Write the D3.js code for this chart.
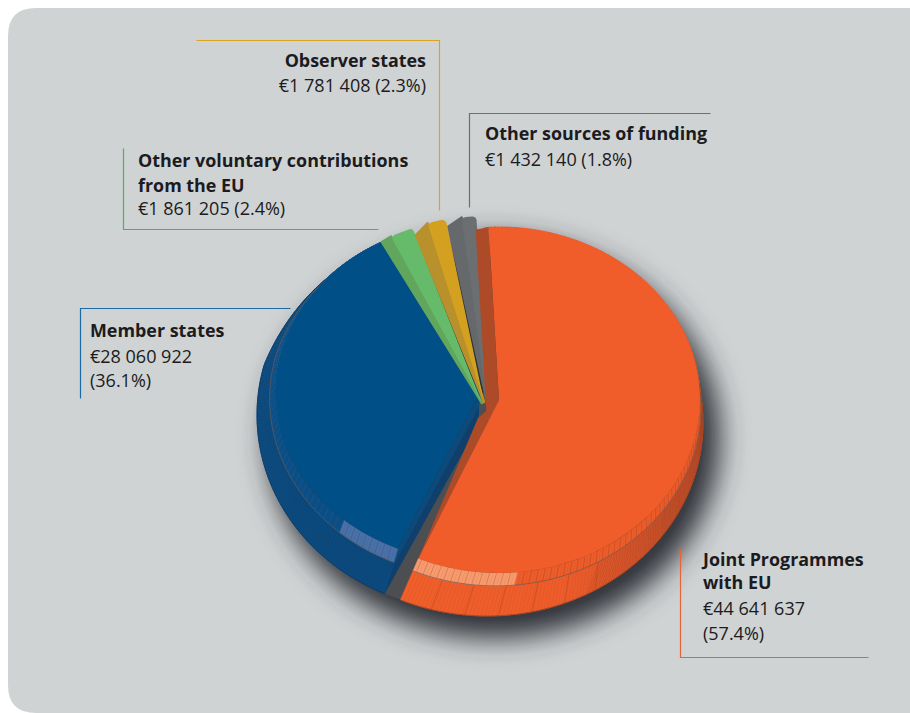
<!DOCTYPE html>
<html><head><meta charset="utf-8">
<script src="https://cdnjs.cloudflare.com/ajax/libs/d3/7.8.5/d3.min.js"></script>
<style>html,body{margin:0;padding:0;background:#fff}svg{display:block}
text{font-family:"Open Sans",sans-serif;fill:#1b1b20;font-size:18px}
.b{font-weight:700;font-size:17.9px}</style></head><body>
<svg id="c" width="910" height="713"></svg>
<script>
const categories=["Joint Programmes with EU","Member states","Other voluntary contributions from the EU","Observer states","Other sources of funding"];
const values=[44641637,28060922,1861205,1781408,1432140];
const percents=["57.4%","36.1%","2.4%","2.3%","1.8%"];
const amounts=["€44 641 637","€28 060 922","€1 861 205","€1 781 408","€1 432 140"];
const topColors=["#f05d2a","#004f86","#66bb6a","#d4a020","#6b6f72"];
const cutColors=["#ad4a28","#0c4a7c","#62a65e","#b8902c","#65696b"];
const lineColors=["#e8623a","#1a6aa5","#45b850","#d9a520","#6d7072"];

// layout of each exploded wedge: top ellipse, bottom (extruded) ellipse, angular insets in degrees
const geo=[
 {cx:499,cy:400,rx:201,ry:173,bx:487,by:423,brx:216,bry:193,i0:0,i1:0},
 {cx:480,cy:392,rx:205,ry:171,bx:470,by:415,brx:213,bry:195,i0:0,i1:0,taper:d3.scaleLinear().domain([285,312]).range([1,0]).clamp(true)},
 {cx:482,cy:403,rx:204,ry:186,bx:477,by:405,brx:213,bry:182,i0:0,i1:2},
 {cx:484,cy:402,rx:204,ry:186,bx:475,by:410,brx:213,bry:182,i0:1.8,i1:1.2},
 {cx:487,cy:402,rx:204,ry:186,bx:475,by:407,brx:213,bry:182,i0:2.5,i1:0}
];
const svg=d3.select("#c");
const rad=Math.PI/180;
const defs=svg.append("defs");
defs.append("filter").attr("id","sh").attr("x","-30%").attr("y","-30%").attr("width","160%").attr("height","160%")
  .append("feGaussianBlur").attr("stdDeviation",14);

// panel
svg.append("path").attr("fill","#d0d3d4")
  .attr("d","M36 713 Q8 713 8 685 V36 Q8 8 36 8 H910 V713 Z");

// shadow
svg.append("ellipse").attr("cx",494).attr("cy",438).attr("rx",226).attr("ry",200)
  .attr("fill","#2f3039").attr("filter","url(#sh)");

const pie=d3.pie().sort(null).startAngle(-3*rad).endAngle(357*rad);
const arcs=pie(values).map((d,i)=>({...d,startAngle:d.startAngle+geo[i].i0*rad,endAngle:d.endAngle-geo[i].i1*rad}));
const arc=d3.arc().innerRadius(0).outerRadius(1);
const lineGen=d3.line().x(d=>d[0]).y(d=>d[1]);

function pt(g,t0,a){ // point at angle a, t=0 top ellipse, t=1 bottom ellipse
  const t=g.taper?t0*g.taper(a/rad):t0;
  const cx=g.cx+(g.bx-g.cx)*t, cy=g.cy+(g.by-g.cy)*t, rx=g.rx+(g.brx-g.rx)*t, ry=g.ry+(g.bry-g.ry)*t;
  return [cx+rx*Math.sin(a), cy-ry*Math.cos(a)];
}
function centre(g,t){return [g.cx+(g.bx-g.cx)*t, g.cy+(g.by-g.cy)*t];}
const BEV=0.3;

const orangeWall=d3.scaleLinear().domain([60,125,160,205]).range(["#c04e2a","#cc522a","#ee5c2a","#f05e2a"]).clamp(true);
function wallColor(i,deg){
  if(i===0) return orangeWall(deg);
  if(i===1) return "#0c4a7e";
  return cutColors[i];
}
function bevelColor(i,deg){
  if(i===0) return deg>174?"#f79a6d":"#ee5c2a";
  if(i===1) return deg<221?"#4a70a8":"#0a4f87";
  return topColors[i];
}
function tickColor(i,deg){
  if(i===0) return deg>174?"#c96a45":"#b34a25";
  if(i===1) return deg<221?"#3a5c90":"#2a5a88";
  return cutColors[i];
}

// seam between the two big wedges
svg.append("path").attr("fill","#4c4e52")
  .attr("d",lineGen([centre(geo[1],0),pt(geo[1],1,arcs[1].startAngle),pt(geo[0],1,arcs[0].endAngle),centre(geo[0],0)])+"Z");

const blueCutApex=[centre(geo[1],1)[0]+8,centre(geo[1],1)[1]+10];
const orangeCutApex=[centre(geo[0],1)[0]-9,centre(geo[0],1)[1]-5];

const order=[1,2,3,4,0];
order.forEach(i=>{
  const a=arcs[i], g=geo[i], G=svg.append("g");
  const a0=a.startAngle,a1=a.endAngle;
  const n=Math.max(2,Math.round((a1-a0)/rad));
  const st=d3.range(n).map(k=>a0+(a1-a0)*k/n);
  const dt=(a1-a0)/n;
  if(i>1){
    G.append("path").attr("fill",cutColors[i]).attr("stroke",cutColors[i]).attr("stroke-width",2.5).attr("stroke-linejoin","round")
     .attr("d",lineGen([centre(g,0),pt(g,0,a0),pt(g,1,a0)])+"Z");
  } else {
    if(i===1){
      G.append("path").attr("fill",cutColors[1])
       .attr("d",lineGen([centre(g,0),pt(g,0,a0),pt(g,1,a0),blueCutApex])+"Z");
      const mid=d3.interpolateArray(centre(g,0),blueCutApex)(0.45), midO=d3.interpolateArray(pt(g,0,a0),pt(g,1,a0))(0.45);
      G.append("path").attr("fill","#103f6b")
       .attr("d",lineGen([mid,midO,pt(g,1,a0),blueCutApex])+"Z");
    } else {
      G.append("path").attr("fill",cutColors[0])
       .attr("d",lineGen([centre(g,0),pt(g,0,a0),pt(g,1,a0),centre(g,1)])+"Z");
      G.append("path").attr("fill",cutColors[0])
       .attr("d",lineGen([centre(g,0),pt(g,0,a1),pt(g,BEV,a1),orangeCutApex])+"Z");
    }
    // outer wall facets
    G.selectAll("path.w").data(st).join("path").attr("class","w")
     .attr("fill",x=>wallColor(i,x/rad)).attr("stroke",x=>wallColor(i,x/rad)).attr("stroke-width",.6)
     .attr("d",x=>lineGen([pt(g,BEV,x),pt(g,BEV,x+dt),pt(g,1,x+dt),pt(g,1,x)])+"Z");
    // hatch over the wall
    const hs=d3.range(Math.round((a1-a0)/rad*1.2)).map(k=>a0+k*rad/1.2).filter(x=>i===1||x/rad<150);
    G.selectAll("path.h").data(hs).join("path").attr("class","h")
     .attr("stroke",i===0?"#8f3a1e":"#0a3a66").attr("stroke-width",.5).attr("stroke-opacity",.45).attr("fill","none")
     .attr("d",x=>lineGen([pt(g,BEV,x),pt(g,1,x+3*rad)]));
    if(i===0){
      const sparse=d3.range(150,a1/rad,9).map(x=>x*rad);
      G.selectAll("path.s").data(sparse).join("path").attr("class","s")
       .attr("stroke","#a8461f").attr("stroke-width",.5).attr("fill","none")
       .attr("d",x=>lineGen([pt(g,BEV,x),pt(g,1,x)]));
    }
    // bevel band
    G.selectAll("path.b").data(st).join("path").attr("class","b")
     .attr("fill",x=>bevelColor(i,x/rad)).attr("stroke",x=>bevelColor(i,x/rad)).attr("stroke-width",.6)
     .attr("d",x=>lineGen([pt(g,0,x),pt(g,0,x+dt),pt(g,BEV,x+dt),pt(g,BEV,x)])+"Z");
    G.selectAll("path.t").data(st.filter((x,k)=>k%2===0)).join("path").attr("class","t")
     .attr("stroke",x=>tickColor(i,x/rad)).attr("stroke-width",.5).attr("fill","none")
     .attr("d",x=>lineGen([pt(g,0,x),pt(g,BEV,x)]));
    const fine=d3.range(n+1).map(k=>a0+(a1-a0)*k/n).filter(x=>i===0||x/rad<312);
    G.append("path").attr("fill","none").attr("stroke","#6b5a55").attr("stroke-width",.7)
     .attr("d",lineGen(fine.map(x=>pt(g,BEV,x))));
    G.append("path").attr("fill","none").attr("stroke",i===0?"#a04522":"#0a3a66").attr("stroke-width",.8)
     .attr("d",lineGen(fine.map(x=>pt(g,1,x))));
  }
  // top face
  G.append("path").attr("fill",topColors[i])
   .attr("transform",`translate(${g.cx},${g.cy}) scale(${g.rx},${g.ry})`)
   .attr("d",arc.cornerRadius(i>1?0.02:0)(a));
});

// leaders
const leaders=[
 {c:4,p:[[710,113],[469,113],[469,207]]},
 {c:3,p:[[196,40],[439,40],[439,210]]},
 {c:2,p:[[123,148],[123,229],[378,229]]},
 {c:1,p:[[80,398],[80,308],[290,308]]},
 {c:0,p:[[680,548],[680,657],[868,657]]}
];
svg.selectAll("path.l").data(leaders).join("path").attr("class","l").attr("fill","none")
  .attr("stroke-width",1.2).attr("stroke",d=>lineColors[d.c])
  .attr("d",d=>lineGen(d.p.map(q=>[q[0]+.5,q[1]+.5])));

// labels
const labels=[
 {x:426,a:"end",l:[["Observer states",67,1],[`${amounts[3]} (${percents[3]})`,92,0]]},
 {x:485,a:"start",l:[["Other sources of funding",140,1],[`${amounts[4]} (${percents[4]})`,166,0]]},
 {x:138,a:"start",l:[["Other voluntary contributions",167,1],["from the EU",192,1],[`${amounts[2]} (${percents[2]})`,215,0]]},
 {x:90,a:"start",l:[["Member states",337,1],[amounts[1],363,0],[`(${percents[1]})`,387,0]]},
 {x:703,a:"start",l:[["Joint Programmes",566,1],["with EU",589,1],[amounts[0],615,0],[`(${percents[0]})`,640,0]]}
];
labels.forEach(L=>{
  svg.selectAll(null).data(L.l).join("text").attr("x",L.x).attr("y",d=>d[1])
   .attr("text-anchor",L.a).attr("class",d=>d[2]?"b":null).text(d=>d[0]);
});
</script></body></html>
